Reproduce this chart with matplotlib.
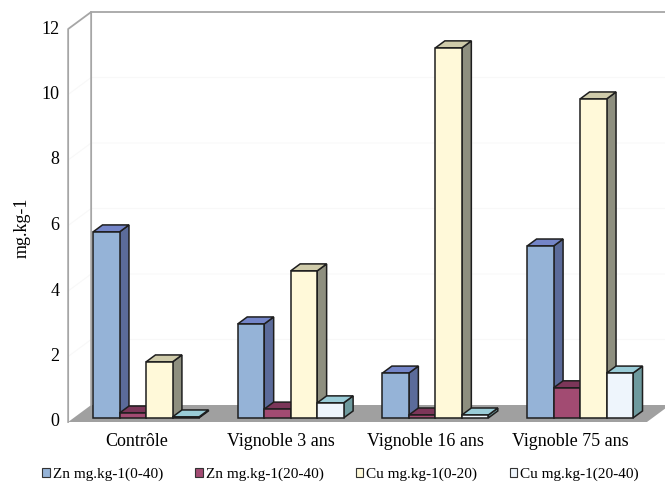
import matplotlib.pyplot as plt
from matplotlib.patches import Polygon, Patch

plt.rcParams['font.family'] = ['Liberation Serif', 'DejaVu Serif']

# Data
categories = ["Contrôle", "Vignoble 3 ans", "Vignoble 16 ans", "Vignoble 75 ans"]
series = ["Zn mg.kg-1(0-40)", "Zn mg.kg-1(20-40)", "Cu mg.kg-1(0-20)", "Cu mg.kg-1(20-40)"]
zn_0_40 = [5.68, 2.87, 1.37, 5.25]
zn_20_40 = [0.15, 0.27, 0.09, 0.92]
cu_0_20 = [1.71, 4.49, 11.30, 9.74]
cu_20_40 = [0.03, 0.46, 0.09, 1.37]
values = [zn_0_40, zn_20_40, cu_0_20, cu_20_40]
yticks = [0, 2, 4, 6, 8, 10, 12]

# face colours per series: front, top, side
faces = [
    ("#95B3D7", "#7485C8", "#5B6B9A"),
    ("#A24B72", "#7C3659", "#6C2E4D"),
    ("#FFF9D9", "#CFCBAA", "#8E8F7F"),
    ("#EEF5FC", "#9ACCD7", "#6E9A9E"),
]

# pseudo-3D projection: depth z in [0, 1] shifts right and up
W, H = 665, 483
SX = 144.7      # px per category slot
SV = 32.75      # px per value unit
X0PX, V0PX = 140.5, 422
DX = 23 / SX
DV = 17 / SV
Z0, Z1 = 0.24, 0.65  # bar depth span
BW = 0.183           # bar width in slot units
VMAX = 12


def proj(x, v, z):
    return (x + z * DX, v + z * DV)


fig = plt.figure(figsize=(W / 100, H / 100), dpi=100)
ax = fig.add_axes([0, 0, 1, 1])
ax.set_xlim(-X0PX / SX, (W - X0PX) / SX)
ax.set_ylim((V0PX - H) / SV, V0PX / SV)
ax.axis("off")

wall = "#A6A6A6"
xl, xr = -0.5, len(categories) - 0.5

# floor
ax.add_patch(Polygon([proj(xl, 0, 0), proj(xr, 0, 0), proj(xr, 0, 1), proj(xl, 0, 1)],
                     closed=True, facecolor="#A0A0A0", edgecolor="none", zorder=1))

# faint gridlines on walls
for t in yticks[1:-1]:
    ax.plot(*zip(proj(xl, t, 0), proj(xl, t, 1), proj(xr + 1, t, 1)),
            color="#F8F8F8", lw=0.8, zorder=0.5)

# left side wall and back wall outline
ax.plot(*zip(proj(xl, 0, 0), proj(xl, VMAX, 0), proj(xl, VMAX, 1), proj(xl, 0, 1)),
        color=wall, lw=1.3, zorder=2)
ax.plot(*zip(proj(xl, VMAX, 1), proj(xr + 1, VMAX, 1)), color=wall, lw=1.3, zorder=2)


def draw_bar(x0, h, cols):
    front, top, side = cols
    kw = dict(closed=True, edgecolor="#1E1E1E", lw=1.1, joinstyle="miter", zorder=3)
    ax.add_patch(Polygon([proj(x0 + BW, 0, Z0), proj(x0 + BW, 0, Z1),
                          proj(x0 + BW, h, Z1), proj(x0 + BW, h, Z0)], facecolor=side, **kw))
    ax.add_patch(Polygon([proj(x0, h, Z0), proj(x0 + BW, h, Z0),
                          proj(x0 + BW, h, Z1), proj(x0, h, Z1)], facecolor=top, **kw))
    ax.add_patch(Polygon([proj(x0, 0, Z0), proj(x0 + BW, 0, Z0),
                          proj(x0 + BW, h, Z0), proj(x0, h, Z0)], facecolor=front, **kw))


for i in range(len(categories)):
    for j, vals in enumerate(values):
        draw_bar(i - 2 * BW + j * BW, vals[i], faces[j])

# y tick labels on the front edge of the side wall
for t in yticks:
    ax.text(xl - 9 / SX, t, str(t), ha="right", va="center", fontsize=13)

ax.text(-118 / SX, (V0PX - 228) / SV, "mg.kg-1", rotation=90, ha="center", va="center",
        fontsize=13)

for i, c in enumerate(categories):
    ax.text(i - 4 / SX, (V0PX - 441) / SV, c, ha="center", va="center", fontsize=13)

handles = [Patch(facecolor=f[0], edgecolor="#333333", lw=0.8) for f in faces]
fig.legend(handles, series, loc="center", bbox_to_anchor=(0.5 + 8 / W, 1 - 474 / H), ncol=4,
           frameon=False, fontsize=11, handlelength=0.5, handleheight=0.5,
           handletextpad=0.2, columnspacing=2.1)

fig.savefig("out.png", dpi=100)
